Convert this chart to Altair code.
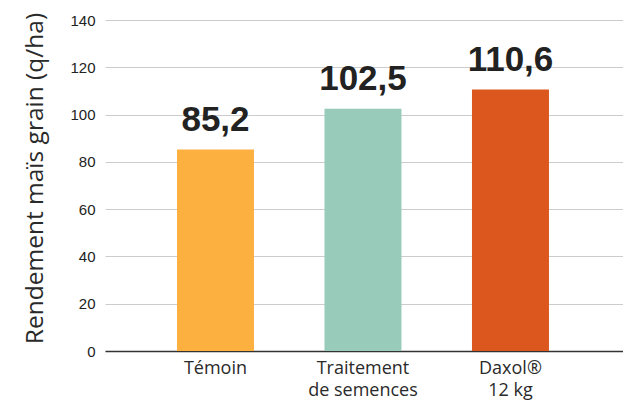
import altair as alt
import pandas as pd

categories = ["Témoin", "Traitement\nde semences", "Daxol®\n12 kg"]
values = [85.2, 102.5, 110.6]
labels = ["85,2", "102,5", "110,6"]
colors = ["#FBB040", "#99CBBB", "#DC571E"]

df = pd.DataFrame({"cat": categories, "val": values, "lab": labels})

x = alt.X("cat:N", sort=categories,
          scale=alt.Scale(paddingInner=0.478, paddingOuter=0.495, align=0.493),
          axis=alt.Axis(title=None, labelAngle=0, ticks=False, domain=True,
                        domainColor="#333333", domainWidth=1.5,
                        labelExpr="split(datum.label, '\\n')",
                        labelFont="Open Sans", labelFontSize=18, labelColor="#2a2a2a",
                        labelPadding=8, labelLineHeight=22, labelBaseline="top",
                        grid=False))
y = alt.Y("val:Q", scale=alt.Scale(domain=[0, 140], nice=False),
          axis=alt.Axis(values=[0, 20, 40, 60, 80, 100, 120, 140],
                        title="Rendement maïs grain (q/ha)",
                        titleFont="Open Sans", titleFontSize=24.5, titleFontWeight="normal",
                        titleColor="#2a2a2a", titleAngle=-90, titleAlign="center",
                        titleBaseline="alphabetic", titleX=-63, titleY=158,
                        labelFont="Liberation Sans", labelFontSize=15,
                        labelColor="#222222", labelPadding=10,
                        ticks=False, domain=False,
                        grid=True, gridColor="#cccccc", gridWidth=1))

bars = alt.Chart(df).mark_bar().encode(
    x=x, y=y,
    color=alt.Color("cat:N", sort=categories,
                    scale=alt.Scale(domain=categories, range=colors), legend=None),
)

text = alt.Chart(df).mark_text(font="Liberation Sans", fontWeight="bold",
                               fontSize=35, color="#222222", dy=-19,
                               baseline="alphabetic").encode(
    x=alt.X("cat:N", sort=categories), y="val:Q", text="lab:N")

chart = (bars + text).properties(
    width=518, height=331,
    autosize=alt.AutoSizeParams(type="none"),
    padding={"left": 97, "top": 12, "right": 0, "bottom": 52},
).configure_view(stroke=None)

chart.save("out.html", embed_options={"renderer": "svg", "actions": False})
